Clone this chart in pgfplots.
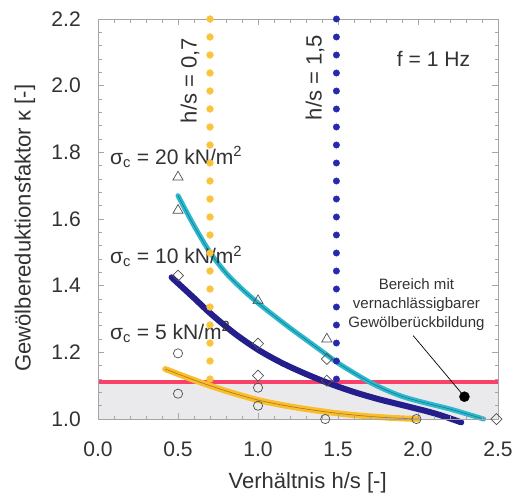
\documentclass[border=0pt]{standalone}
\usepackage{fontspec}
\setmainfont{Liberation Sans}
\usepackage{pgfplots}
\pgfplotsset{compat=1.18}
\definecolor{cyanline}{RGB}{45,185,205}
\definecolor{cyancenter}{RGB}{20,120,150}
\definecolor{navyline}{RGB}{35,30,140}
\definecolor{orangeline}{RGB}{250,190,45}
\definecolor{orangecenter}{RGB}{175,125,40}
\definecolor{redline}{RGB}{250,65,105}
\definecolor{orangedot}{RGB}{250,195,60}
\definecolor{bluedot}{RGB}{40,40,175}
\definecolor{markcol}{RGB}{80,80,80}
\definecolor{axisgrey}{RGB}{165,165,165}
\definecolor{textcol}{RGB}{50,50,50}
\definecolor{shade}{RGB}{234,234,236}
\begin{document}
\begin{tikzpicture}
\begin{axis}[
  scale only axis, width=399pt, height=399pt,
  xmin=0, xmax=2.5, ymin=1, ymax=2.2,
  xtick={0,0.5,1,1.5,2,2.5}, ytick={1,1.2,1.4,1.6,1.8,2,2.2},
  minor x tick num=4, minor y tick num=4,
  tick align=inside,
  major tick length=6pt, minor tick length=3.5pt,
  every tick/.style={axisgrey, line width=0.6pt},
  axis line style={axisgrey, line width=0.8pt},
  /pgf/number format/assume math mode=true,
  xticklabel style={/pgf/number format/fixed, /pgf/number format/fixed zerofill, /pgf/number format/precision=1, anchor=center, inner sep=0pt, yshift=-30pt},
  yticklabel style={/pgf/number format/fixed, /pgf/number format/fixed zerofill, /pgf/number format/precision=1, anchor=east, inner sep=0pt, xshift=-17pt},
  ticklabel style={font=\fontsize{21}{25}\selectfont, text=textcol},
  xlabel={Verhältnis h/s [-]},
  ylabel={Gewölbereduktionsfaktor κ [-]},
  label style={font=\fontsize{22}{26}\selectfont, text=textcol},
  xlabel style={at={(axis description cs:0.524,-0.16)}, anchor=center},
  ylabel style={at={(axis description cs:-0.183,0.477)}, anchor=center},
  clip=false, axis on top,
]
% bounding frame matching the reference proportions
\path (axis cs:-0.6125,0.7624) rectangle (axis cs:2.606,2.257);

% shaded region
\addplot[fill=shade, draw=none] coordinates {(0,1) (2.5,1) (2.5,1.11) (0,1.11) (0,1)};
\addplot[redline, line width=4pt] coordinates {(0,1.11) (2.5,1.11)};

% vertical dotted lines
\addplot[only marks, mark=*, mark size=3.4pt, orangedot, mark options={draw=orangedot, fill=orangedot}] coordinates {
(0.7,2.2) (0.7,2.146) (0.7,2.092) (0.7,2.038) (0.7,1.984) (0.7,1.930) (0.7,1.876)
(0.7,1.822) (0.7,1.768) (0.7,1.714) (0.7,1.660) (0.7,1.606) (0.7,1.552) (0.7,1.498)
(0.7,1.444) (0.7,1.390) (0.7,1.336) (0.7,1.282) (0.7,1.228) (0.7,1.174) (0.7,1.120)};
\addplot[only marks, mark=*, mark size=3.2pt, bluedot, mark options={draw=bluedot, fill=bluedot}] coordinates {
(1.49,2.2) (1.49,2.146) (1.49,2.092) (1.49,2.038) (1.49,1.984) (1.49,1.930) (1.49,1.876)
(1.49,1.822) (1.49,1.768) (1.49,1.714) (1.49,1.660) (1.49,1.606) (1.49,1.552) (1.49,1.498)
(1.49,1.444) (1.49,1.390) (1.49,1.336) (1.49,1.282) (1.49,1.228) (1.49,1.174) (1.49,1.120)};

% sigma_c = 5 (orange)
\addplot[orangeline, line width=6pt, smooth, line cap=round] coordinates {
(0.42,1.150) (0.55,1.126) (0.70,1.100) (0.85,1.077) (1.00,1.057) (1.15,1.042)
(1.30,1.030) (1.45,1.020) (1.60,1.012) (1.75,1.006) (1.90,1.002) (2.00,1.000)};
\addplot[orangecenter, line width=0.7pt, smooth] coordinates {
(0.42,1.150) (0.55,1.126) (0.70,1.100) (0.85,1.077) (1.00,1.057) (1.15,1.042)
(1.30,1.030) (1.45,1.020) (1.60,1.012) (1.75,1.006) (1.90,1.002) (2.00,1.000)};

% sigma_c = 10 (navy)
\addplot[navyline, line width=6pt, smooth, line cap=round] coordinates {
(0.46,1.425) (0.60,1.363) (0.70,1.318) (0.85,1.258) (1.00,1.208) (1.15,1.168)
(1.30,1.135) (1.45,1.106) (1.60,1.081) (1.75,1.060) (1.90,1.042) (2.05,1.024)
(2.15,1.010) (2.27,0.990)};

% sigma_c = 20 (cyan)
\addplot[cyanline, line width=5pt, smooth, line cap=round] coordinates {
(0.50,1.670) (0.60,1.580) (0.70,1.500) (0.80,1.438) (0.90,1.390) (1.00,1.348)
(1.10,1.310) (1.20,1.273) (1.30,1.238) (1.40,1.203) (1.50,1.168) (1.60,1.138)
(1.70,1.110) (1.80,1.087) (1.90,1.068) (2.00,1.054) (2.10,1.042) (2.20,1.030)
(2.30,1.016) (2.41,1.000)};
\addplot[cyancenter, line width=0.6pt, smooth] coordinates {
(0.50,1.670) (0.60,1.580) (0.70,1.500) (0.80,1.438) (0.90,1.390) (1.00,1.348)
(1.10,1.310) (1.20,1.273) (1.30,1.238) (1.40,1.203) (1.50,1.168) (1.60,1.138)
(1.70,1.110) (1.80,1.087) (1.90,1.068) (2.00,1.054) (2.10,1.042) (2.20,1.030)
(2.30,1.016) (2.41,1.000)};

% measured points
\addplot[only marks, mark=triangle, mark size=5.8pt, markcol, mark options={line width=0.7pt}] coordinates {
(0.5,1.726) (0.5,1.626) (1.0,1.355) (1.43,1.24)};
\addplot[only marks, mark=square, mark size=3.9pt, markcol, mark options={line width=0.7pt, rotate=45}] coordinates {
(0.5,1.43) (1.0,1.226) (1.0,1.13) (1.43,1.18) (1.43,1.115) (2.49,1.0)};
\addplot[only marks, mark=o, mark size=4.6pt, markcol, mark options={line width=0.7pt}] coordinates {
(0.5,1.197) (0.5,1.076) (1.0,1.094) (1.0,1.04) (1.42,1.0) (1.99,1.0)};

% annotation
\addplot[black, line width=0.7pt] coordinates {(1.97,1.25) (2.29,1.067)};
\addplot[only marks, mark=*, mark size=5pt, black] coordinates {(2.29,1.067)};
\node[align=center, font=\fontsize{15}{19}\selectfont, text=textcol] at (axis cs:1.99,1.343) {Bereich mit\\vernachlässigbarer\\Gewölberückbildung};

% labels
\node[anchor=base west, font=\fontsize{21}{25}\selectfont, text=textcol, inner sep=0pt] at (axis cs:0.075,1.764) {σ\textsubscript{c} = 20 kN/m\textsuperscript{2}};
\node[anchor=base west, font=\fontsize{21}{25}\selectfont, text=textcol, inner sep=0pt] at (axis cs:0.075,1.466) {σ\textsubscript{c} = 10 kN/m\textsuperscript{2}};
\node[anchor=base west, font=\fontsize{21}{25}\selectfont, text=textcol, inner sep=0pt] at (axis cs:0.075,1.240) {σ\textsubscript{c} = 5 kN/m\textsuperscript{2}};
\node[anchor=base west, font=\fontsize{21}{25}\selectfont, text=textcol, inner sep=0pt] at (axis cs:1.867,2.057) {f = 1 Hz};
\node[anchor=base west, rotate=90, font=\fontsize{22}{26}\selectfont, text=textcol, inner sep=0pt] at (axis cs:0.617,1.887) {h/s = 0,7};
\node[anchor=base west, rotate=90, font=\fontsize{22}{26}\selectfont, text=textcol, inner sep=0pt] at (axis cs:1.398,1.896) {h/s = 1,5};
\end{axis}
\end{tikzpicture}
\end{document}
